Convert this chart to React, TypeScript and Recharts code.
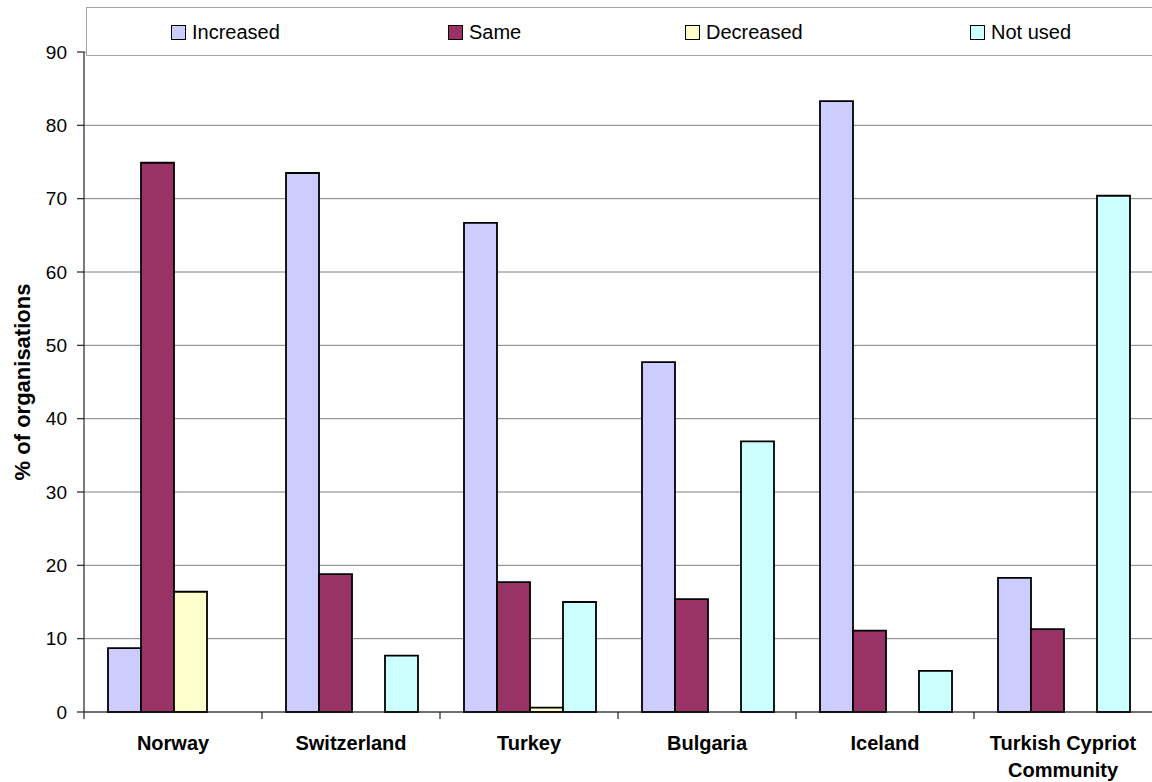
import React from 'react';
import { BarChart, Bar, XAxis, YAxis, CartesianGrid } from 'recharts';

const categories = ['Norway', 'Switzerland', 'Turkey', 'Bulgaria', 'Iceland', 'Turkish Cypriot Community'];
const categoryLines = [['Norway'], ['Switzerland'], ['Turkey'], ['Bulgaria'], ['Iceland'], ['Turkish Cypriot', 'Community']];

const increased = [8.7, 73.5, 66.7, 47.7, 83.3, 18.3];
const same = [74.9, 18.8, 17.7, 15.4, 11.1, 11.3];
const decreased = [16.4, 0, 0.6, 0, 0, 0];
const notUsed = [0, 7.7, 15.0, 36.9, 5.6, 70.4];

const yTicks = [0, 10, 20, 30, 40, 50, 60, 70, 80, 90];

const series = [
  { key: 'increased', name: 'Increased', color: '#CCCCFF', legendX: 84 },
  { key: 'same', name: 'Same', color: '#993366', legendX: 361 },
  { key: 'decreased', name: 'Decreased', color: '#FFFFCC', legendX: 598 },
  { key: 'notUsed', name: 'Not used', color: '#CCFFFF', legendX: 883 },
];

const data = categories.map((name, i) => ({
  name,
  increased: increased[i],
  same: same[i],
  decreased: decreased[i],
  notUsed: notUsed[i],
}));

const FONT = 'Arial, "Liberation Sans", sans-serif';
const WIDTH = 1152;
const HEIGHT = 782;
const PLOT_LEFT = 84;
const PLOT_TOP = 52;
const PLOT_BOTTOM = 712;
const BAND = (WIDTH - PLOT_LEFT) / categories.length;

// tick mark sits on the left edge of each category, label in the middle
function CategoryTick({ x, payload, index }: any) {
  const lines = categoryLines[index] || [payload.value];
  const left = x - BAND / 2;
  return (
    <g>
      <line x1={left} y1={PLOT_BOTTOM} x2={left} y2={PLOT_BOTTOM + 7} stroke="#222" strokeWidth={1.2} />
      {lines.map((line: string, i: number) => (
        <text
          key={i}
          x={x}
          y={PLOT_BOTTOM + 38 + i * 27}
          textAnchor="middle"
          fontFamily={FONT}
          fontSize={20}
          fontWeight="bold"
          fill="#000"
        >
          {line}
        </text>
      ))}
    </g>
  );
}

export default function App() {
  return (
    <div style={{ position: 'absolute', left: 0, top: 0, width: WIDTH, height: HEIGHT, background: '#fff' }}>
      <BarChart
        width={WIDTH}
        height={HEIGHT}
        data={data}
        margin={{ top: PLOT_TOP, right: 0, left: 0, bottom: 0 }}
        barCategoryGap={24}
        barGap={0}
      >
        <CartesianGrid vertical={false} stroke="#808080" strokeWidth={1} />
        <XAxis
          dataKey="name"
          height={HEIGHT - PLOT_BOTTOM}
          interval={0}
          tickLine={false}
          axisLine={{ stroke: '#222', strokeWidth: 1.2 }}
          tick={<CategoryTick />}
        />
        <YAxis
          width={PLOT_LEFT}
          domain={[0, 90]}
          ticks={yTicks}
          interval={0}
          tickSize={7}
          tickMargin={10}
          axisLine={{ stroke: '#222', strokeWidth: 1.2 }}
          tickLine={{ stroke: '#222', strokeWidth: 1.2 }}
          tick={{ fill: '#000', fontSize: 19, fontFamily: FONT }}
          label={{
            value: '% of organisations',
            angle: -90,
            position: 'insideLeft',
            offset: 22,
            style: { textAnchor: 'middle', fontSize: 22, fontWeight: 'bold', fontFamily: FONT, fill: '#000' },
          }}
        />
        {series.map(s => (
          <Bar
            key={s.key}
            dataKey={s.key}
            name={s.name}
            fill={s.color}
            stroke="#000"
            strokeWidth={1.8}
            isAnimationActive={false}
          />
        ))}
      </BarChart>

      {/* legend box, overlaps the top of the plot like the original */}
      <div
        style={{
          position: 'absolute',
          left: 86,
          top: 7,
          width: WIDTH - 86,
          height: 49,
          border: '1px solid #a6a6a6',
          borderRight: 'none',
          background: '#fff',
          boxSizing: 'border-box',
          fontFamily: FONT,
          fontSize: 20,
          color: '#000',
        }}
      >
        {series.map(s => (
          <div
            key={s.key}
            style={{ position: 'absolute', left: s.legendX, top: 12, display: 'flex', alignItems: 'center', whiteSpace: 'nowrap' }}
          >
            <span
              style={{
                display: 'inline-block',
                width: 13,
                height: 13,
                border: '1px solid #000',
                background: s.color,
                marginRight: 6,
              }}
            />
            <span style={{ lineHeight: '24px' }}>{s.name}</span>
          </div>
        ))}
      </div>
    </div>
  );
}
